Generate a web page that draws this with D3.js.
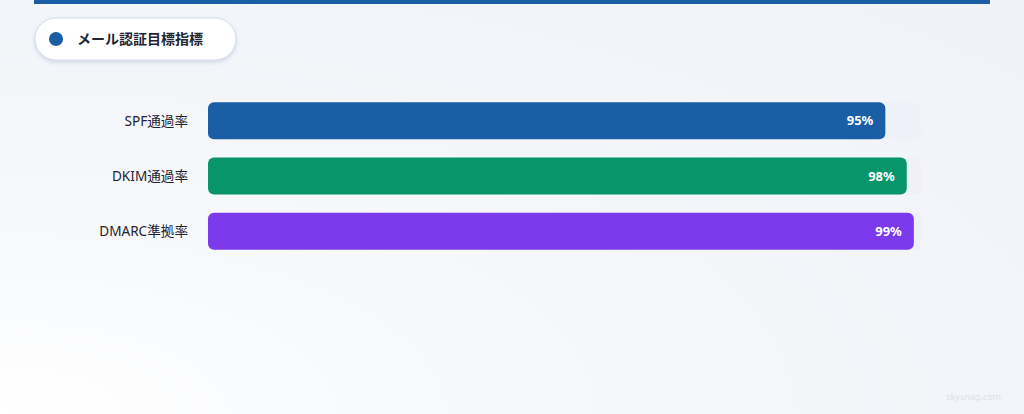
<!DOCTYPE html>
<html>
<head>
<meta charset="utf-8">
<script src="https://cdn.jsdelivr.net/npm/d3@7"></script>
<style>
  html, body { margin: 0; padding: 0; }
  body { width: 1024px; height: 414px; overflow: hidden;
    background: radial-gradient(ellipse at 0% 100%, #ffffff 0%, #f6f8fb 35%, #eff2f7 100%); }
  .wrapper { width: 1024px; height: 414px; }
  text { font-family: "Noto Sans", "Noto Sans CJK JP", sans-serif; }
</style>
</head>
<body>
<div class="wrapper"></div>
<script>
// chart data
var title = "メール認証目標指標";
var categories = ["SPF通過率", "DKIM通過率", "DMARC準拠率"];
var values = [95, 98, 99];
var colors = ["#1a5fa6", "#07956a", "#7c3aed"];

var w = 1024, h = 414;

var svg = d3.select(".wrapper").append("svg")
    .attr("width", w)
    .attr("height", h);

var defs = svg.append("defs");
var sh = defs.append("filter").attr("id", "pillShadow")
    .attr("x", "-10%").attr("y", "-30%").attr("width", "120%").attr("height", "160%");
sh.append("feDropShadow").attr("dx", 0).attr("dy", 2).attr("stdDeviation", 2)
    .attr("flood-color", "#8aa0c0").attr("flood-opacity", 0.35);

// top stripe
svg.append("rect")
    .attr("x", 34).attr("y", 0)
    .attr("width", 956).attr("height", 4)
    .attr("fill", "#1a5fa6");

// title pill
var pill = svg.append("g");
pill.append("rect")
    .attr("x", 35).attr("y", 18)
    .attr("width", 201).attr("height", 42)
    .attr("rx", 21)
    .attr("fill", "#ffffff")
    .attr("stroke", "#d5dde9")
    .attr("stroke-width", 1)
    .attr("filter", "url(#pillShadow)");
pill.append("circle")
    .attr("cx", 56).attr("cy", 39).attr("r", 7)
    .attr("fill", "#1a5fa6");
pill.append("text")
    .attr("x", 77).attr("y", 39)
    .attr("dy", "0.35em")
    .attr("font-size", 14)
    .attr("font-weight", 700)
    .attr("fill", "#1f2533")
    .text(title);

// scales
var x = d3.scaleLinear().domain([0, 100]).range([208, 921]);
var y = d3.scaleBand().domain(categories).range([93.5, 258.5]).paddingInner(0.33).paddingOuter(0.16);

var rows = svg.selectAll("g.row")
    .data(categories)
  .enter().append("g")
    .attr("class", "row");

// track
rows.append("rect")
    .attr("x", x(0))
    .attr("y", function(d) { return y(d); })
    .attr("width", x(100) - x(0))
    .attr("height", y.bandwidth())
    .attr("rx", 6)
    .attr("fill", "#eef1f7");

// bars
rows.append("rect")
    .attr("x", x(0))
    .attr("y", function(d) { return y(d); })
    .attr("width", function(d, i) { return x(values[i]) - x(0); })
    .attr("height", y.bandwidth())
    .attr("rx", 6)
    .attr("fill", function(d, i) { return colors[i]; });

// category labels
rows.append("text")
    .attr("x", 188)
    .attr("y", function(d) { return y(d) + y.bandwidth() / 2; })
    .attr("dy", "0.35em")
    .attr("text-anchor", "end")
    .attr("font-size", 13.6)
    .attr("font-weight", 400)
    .attr("fill", "#1f2430")
    .text(function(d) { return d; });

// value labels
rows.append("text")
    .attr("x", function(d, i) { return x(values[i]) - 12; })
    .attr("y", function(d) { return y(d) + y.bandwidth() / 2; })
    .attr("dy", "0.35em")
    .attr("text-anchor", "end")
    .attr("font-size", 13)
    .attr("font-weight", 700)
    .attr("fill", "#ffffff")
    .text(function(d, i) { return values[i] + "%"; });

// watermark
svg.append("text")
    .attr("x", 1001).attr("y", 400)
    .attr("text-anchor", "end")
    .attr("font-size", 9)
    .attr("fill", "#dde2ea")
    .text("skysnag.com");
</script>
</body>
</html>
